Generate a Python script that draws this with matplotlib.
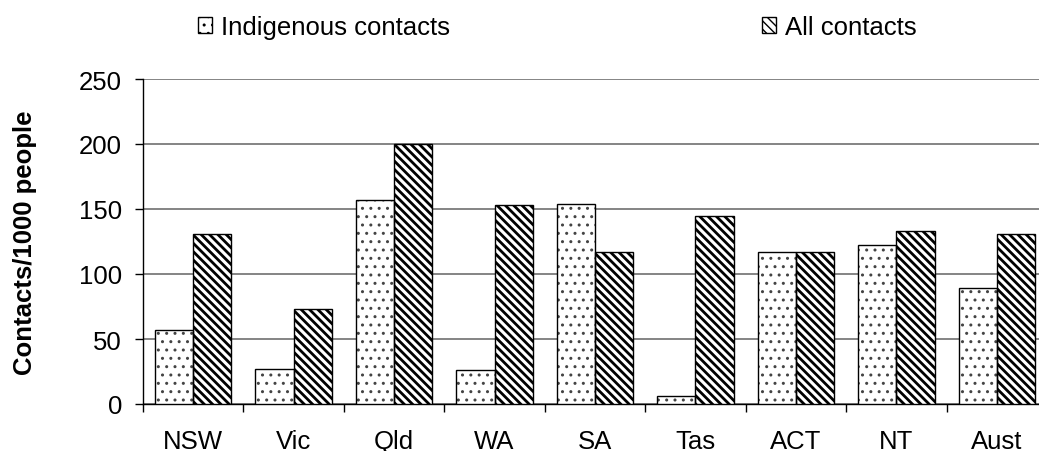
import matplotlib
matplotlib.use("Agg")
import matplotlib.pyplot as plt
import numpy as np
from matplotlib.patches import Patch

plt.rcParams["font.family"] = ["Liberation Sans", "DejaVu Sans"]

# data
states = ["NSW", "Vic", "Qld", "WA", "SA", "Tas", "ACT", "NT", "Aust"]
indigenous = [57, 27, 157, 26, 154, 6, 117, 122, 89]
all_contacts = [131, 73, 200, 153, 117, 145, 117, 133, 131]
y_ticks = [0, 50, 100, 150, 200, 250]

FS = 18.5

fig = plt.figure(figsize=(10.39, 4.52), dpi=100)
ax = fig.add_axes([143 / 1039, 47 / 452, 904 / 1039, 325 / 452])

x = np.arange(len(states))
w = 0.38

# dotted bars: gray dots drawn first, black outline on top
ax.bar(x - w / 2, indigenous, w, color="white", edgecolor="#444444",
       linewidth=0, hatch="..", zorder=3)
ax.bar(x - w / 2, indigenous, w, fill=False, edgecolor="black",
       linewidth=1.0, zorder=4)
b2 = ax.bar(x + w / 2, all_contacts, w, color="white", edgecolor="black",
            linewidth=1.0, hatch="\\\\\\\\", zorder=3)
for b in b2:
    if hasattr(b, "set_hatch_linewidth"):
        b.set_hatch_linewidth(2.0)

ax.set_xlim(-0.5, len(states) - 0.5)
ax.set_ylim(0, 250)
ax.set_yticks(y_ticks)
ax.set_xticks(x)
ax.set_xticklabels(states)
ax.set_xticks(np.arange(len(states) + 1) - 0.5, minor=True)
ax.tick_params(axis="x", which="major", length=0, pad=18, labelsize=FS)
ax.tick_params(axis="x", which="minor", length=6, width=1, direction="out")
ax.tick_params(axis="y", length=6, width=1, labelsize=FS, pad=9)
ax.yaxis.grid(True, color="#707070", linewidth=1.2, zorder=0)
ax.set_axisbelow(True)
for s in ["top", "right"]:
    ax.spines[s].set_visible(False)
ax.spines["left"].set_linewidth(1.0)
ax.spines["bottom"].set_linewidth(1.0)

ax.set_ylabel("Contacts/1000 people", fontsize=FS, fontweight="bold", labelpad=30)

h1 = Patch(facecolor="white", edgecolor="black", hatch="..", linewidth=1)
h2 = Patch(facecolor="white", edgecolor="black", hatch="\\\\\\\\", linewidth=1)
leg_kw = dict(frameon=False, fontsize=FS, handlelength=0.55, handleheight=0.55,
              handletextpad=0.35, loc="center left", borderpad=0, borderaxespad=0)
fig.legend([h1], ["Indigenous contacts"], bbox_to_anchor=(198 / 1039, 1 - 28 / 452), **leg_kw)
fig.legend([h2], ["All contacts"], bbox_to_anchor=(762 / 1039, 1 - 28 / 452), **leg_kw)

fig.savefig("out.png", dpi=100)
